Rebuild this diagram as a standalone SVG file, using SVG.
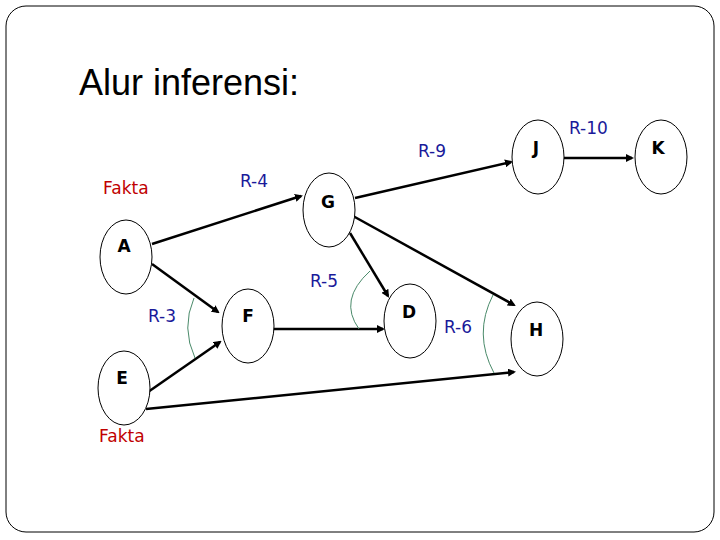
<svg xmlns="http://www.w3.org/2000/svg" width="720" height="540" viewBox="0 0 720 540">
<style>
.n{fill:#fff;stroke:#000;stroke-width:1}
.l{font-family:"DejaVu Sans",Verdana,sans-serif;font-weight:bold;font-size:17px;fill:#000;text-anchor:middle}
.r{font-family:"DejaVu Sans",Verdana,sans-serif;font-size:17px;fill:#1a1a9a}
.f{font-family:"DejaVu Sans",Verdana,sans-serif;font-size:17px;fill:#c00000}
.c line{stroke:#000;stroke-width:2.5;marker-end:url(#ah)}
.a{fill:none;stroke:#4a8a6a;stroke-width:1}
</style>
<defs><marker id="ah" markerWidth="8" markerHeight="8" refX="6" refY="4" orient="auto" markerUnits="userSpaceOnUse"><path d="M0,0 L8,4 L0,8 z" fill="#000"/></marker></defs>
<rect x="6" y="6" width="708" height="526" rx="20" fill="#fff" stroke="#000" stroke-width="1"/>
<text x="79" y="95" font-family="Liberation Sans,Arial,sans-serif" font-size="36">Alur inferensi:</text>
<g class="c">
<line x1="152" y1="244" x2="301" y2="196"/>
<line x1="152" y1="264" x2="218" y2="312"/>
<line x1="148" y1="392" x2="220" y2="342"/>
<line x1="146" y1="409" x2="514" y2="372"/>
<line x1="273" y1="329" x2="383" y2="329"/>
<line x1="350" y1="233" x2="388" y2="296"/>
<line x1="353" y1="216" x2="514" y2="305"/>
<line x1="355" y1="198" x2="511" y2="162"/>
<line x1="564" y1="158" x2="632" y2="158"/>
</g>
<path class="a" d="M194,298 Q181,328 195,358"/>
<path class="a" d="M370,271 Q338,300 359,329"/>
<path class="a" d="M493,295 Q473,334 494,373"/>
<g id="A"><ellipse class="n" cx="126" cy="257" rx="26" ry="37"/><text class="l" x="124" y="252">A</text></g>
<g id="G"><ellipse class="n" cx="329" cy="210" rx="26" ry="37"/><text class="l" x="328" y="208">G</text></g>
<g id="J"><ellipse class="n" cx="538" cy="157" rx="26" ry="37"/><text class="l" x="536" y="154">J</text></g>
<g id="K"><ellipse class="n" cx="661" cy="157" rx="26" ry="37"/><text class="l" x="658" y="154">K</text></g>
<g id="F"><ellipse class="n" cx="248" cy="326" rx="26" ry="37"/><text class="l" x="248" y="322">F</text></g>
<g id="D"><ellipse class="n" cx="410" cy="321" rx="26" ry="37"/><text class="l" x="409" y="318">D</text></g>
<g id="H"><ellipse class="n" cx="537" cy="339" rx="26" ry="37"/><text class="l" x="536" y="336">H</text></g>
<g id="E"><ellipse class="n" cx="124" cy="388" rx="26" ry="37"/><text class="l" x="122" y="384">E</text></g>
<text class="r" x="240" y="187">R-4</text>
<text class="r" x="418" y="157">R-9</text>
<text class="r" x="569" y="134">R-10</text>
<text class="r" x="310" y="287">R-5</text>
<text class="r" x="148" y="322">R-3</text>
<text class="r" x="444" y="333">R-6</text>
<text class="f" x="103" y="194">Fakta</text>
<text class="f" x="99" y="442">Fakta</text>
</svg>
